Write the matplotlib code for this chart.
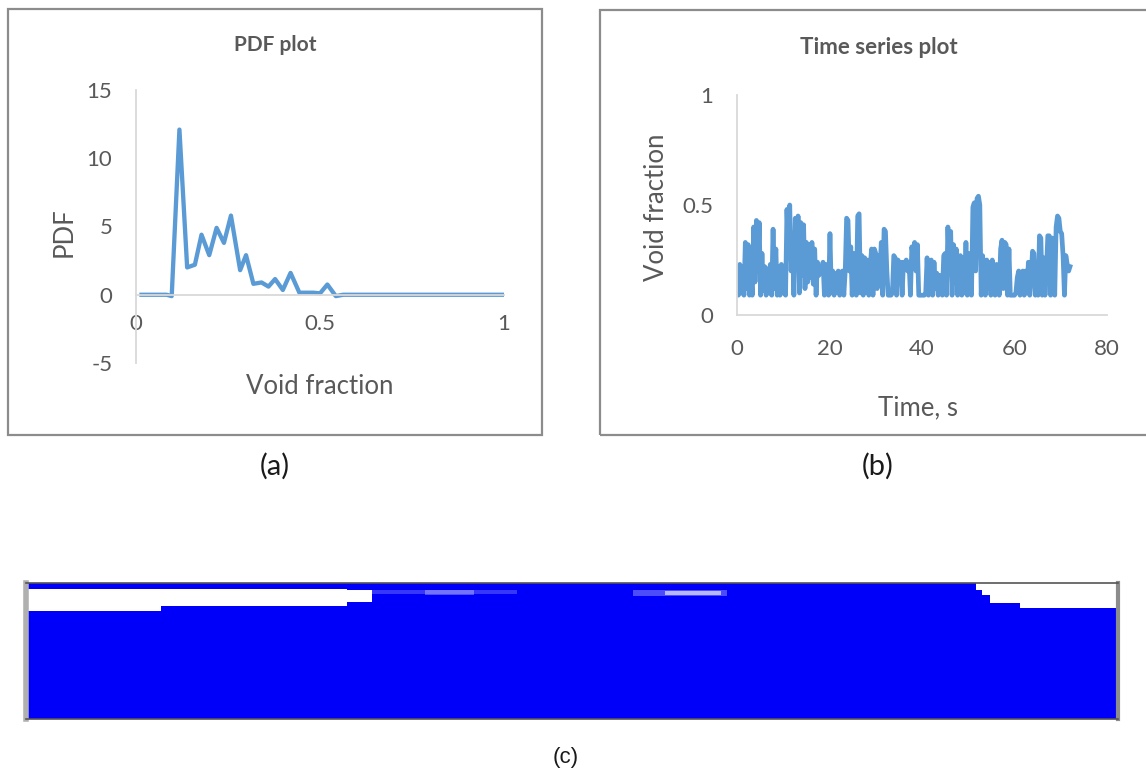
import matplotlib.pyplot as plt
from matplotlib.patches import Rectangle
import numpy as np

plt.rcParams['font.family'] = ['Lato', 'DejaVu Sans']
plt.rcParams['axes.unicode_minus'] = False

W, H = 1146, 773

# (a) PDF of the void fraction
pdf_void = [0.015, 0.083, 0.097, 0.118, 0.139, 0.160, 0.178, 0.199, 0.219, 0.239,
            0.258, 0.283, 0.299, 0.319, 0.341, 0.360, 0.378, 0.399, 0.420, 0.444,
            0.482, 0.500, 0.520, 0.543, 0.563, 1.000]
pdf_vals = [0.0, 0.0, -0.1, 12.1, 2.0, 2.2, 4.4, 2.9, 4.9, 3.8,
            5.8, 1.8, 2.9, 0.8, 0.9, 0.6, 1.15, 0.35, 1.6, 0.15,
            0.15, 0.1, 0.75, -0.1, 0.0, 0.0]

# (b) void fraction signal, one sample every 0.3 s
sample_dt = 0.3
ts_void = [
    0.20, 0.09, 0.23, 0.10, 0.22, 0.09, 0.33, 0.12, 0.32, 0.09, 0.20, 0.09, 0.40, 0.15, 0.43, 0.20, 0.42, 0.09, 0.28, 0.11,
    0.22, 0.09, 0.21, 0.10, 0.23, 0.09, 0.39, 0.12, 0.30, 0.09, 0.22, 0.09, 0.23, 0.10, 0.22, 0.09, 0.48, 0.30, 0.50, 0.20,
    0.37, 0.09, 0.44, 0.25, 0.45, 0.10, 0.42, 0.18, 0.41, 0.12, 0.33, 0.15, 0.32, 0.17, 0.33, 0.14, 0.30, 0.09, 0.24, 0.18,
    0.22, 0.20, 0.24, 0.09, 0.23, 0.18, 0.09, 0.37, 0.10, 0.20, 0.09, 0.19, 0.12, 0.20, 0.09, 0.18, 0.20, 0.09, 0.20, 0.44,
    0.43, 0.20, 0.31, 0.09, 0.28, 0.20, 0.09, 0.45, 0.46, 0.10, 0.27, 0.09, 0.26, 0.12, 0.25, 0.09, 0.22, 0.30, 0.09, 0.30,
    0.28, 0.12, 0.27, 0.20, 0.33, 0.09, 0.39, 0.38, 0.20, 0.09, 0.09, 0.09, 0.10, 0.27, 0.26, 0.09, 0.25, 0.20, 0.24, 0.09,
    0.24, 0.22, 0.25, 0.20, 0.24, 0.09, 0.31, 0.26, 0.33, 0.20, 0.32, 0.09, 0.09, 0.09, 0.09, 0.09, 0.10, 0.26, 0.09, 0.20,
    0.25, 0.09, 0.24, 0.12, 0.19, 0.09, 0.18, 0.13, 0.09, 0.27, 0.28, 0.09, 0.40, 0.20, 0.38, 0.09, 0.32, 0.15, 0.30, 0.09,
    0.20, 0.27, 0.09, 0.26, 0.10, 0.33, 0.09, 0.28, 0.20, 0.09, 0.49, 0.51, 0.20, 0.53, 0.54, 0.50, 0.09, 0.27, 0.20, 0.09,
    0.25, 0.12, 0.24, 0.09, 0.25, 0.14, 0.09, 0.23, 0.18, 0.09, 0.30, 0.34, 0.12, 0.33, 0.32, 0.09, 0.30, 0.09, 0.09, 0.09,
    0.09, 0.10, 0.17, 0.20, 0.09, 0.19, 0.20, 0.09, 0.20, 0.10, 0.24, 0.09, 0.18, 0.29, 0.28, 0.09, 0.20, 0.09, 0.36, 0.35,
    0.09, 0.26, 0.09, 0.20, 0.36, 0.36, 0.09, 0.35, 0.20, 0.09, 0.40, 0.45, 0.44, 0.38, 0.37, 0.27, 0.09, 0.27, 0.23, 0.20, 0.22,
]

# (c) gas pockets in the pipe snapshot: x along the pipe, depth measured from the top wall
left_gas_x = [0.0, 0.124, 0.294, 0.317]
left_gas_top = [0.044, 0.044, 0.05, 0.05]
left_gas_bot = [0.206, 0.169, 0.14, 0.14]
right_gas_x = [0.870, 0.875, 0.883, 0.910, 1.0]
right_gas_top = [0.0, 0.0, 0.0, 0.0, 0.0]
right_gas_bot = [0.051, 0.088, 0.147, 0.184, 0.184]
streak_x = [(0.317, 0.45), (0.365, 0.41), (0.556, 0.642), (0.585, 0.636)]
streak_depth = [(0.05, 0.08), (0.055, 0.085), (0.055, 0.095), (0.06, 0.09)]
streak_alpha = [0.22, 0.3, 0.3, 0.6]

LINE = '#5b9bd5'
TXT = '#595959'
AXC = '#d9d9d9'


def rect(x0, y0, x1, y1):
    """pixel box -> figure fraction [l, b, w, h]"""
    return [x0 / W, 1 - y1 / H, (x1 - x0) / W, (y1 - y0) / H]


def fx(x):
    return x / W


def fy(y):
    return 1 - y / H


def excel_style(ax, xpad, ypad):
    for s in ['top', 'right']:
        ax.spines[s].set_visible(False)
    for s in ['left', 'bottom']:
        ax.spines[s].set_color(AXC)
        ax.spines[s].set_linewidth(1.3)
    ax.tick_params(length=0, labelsize=16, colors=TXT)
    ax.tick_params(axis='x', pad=xpad)
    ax.tick_params(axis='y', pad=ypad)
    ax.patch.set_alpha(0)


fig = plt.figure(figsize=(W / 100, H / 100), dpi=100)

# panel frames
for x0, y0, x1, y1 in [(8, 9, 542, 435), (600, 10, 1150, 435)]:
    fig.patches.append(Rectangle((fx(x0), fy(y1)), fx(x1 - x0), (y1 - y0) / H,
                                 transform=fig.transFigure, fill=False,
                                 edgecolor='#8c8c8c', lw=1.6))

# (a) PDF plot
ax1 = fig.add_axes(rect(136, 90, 504, 363))
ax1.plot(pdf_void, pdf_vals, color=LINE, lw=3.1, solid_joinstyle='round')
ax1.set_xlim(0, 1)
ax1.set_ylim(-5, 15)
ax1.set_xticks([0, 0.5, 1])
ax1.set_xticklabels(['0', '0.5', '1'])
ax1.set_yticks([-5, 0, 5, 10, 15])
ax1.spines['bottom'].set_position(('data', 0))
excel_style(ax1, 14, 17)
fig.text(fx(275), fy(45), 'PDF plot', ha='center', va='center', fontsize=15,
         fontweight='bold', color=TXT)
fig.text(fx(64), fy(232), 'PDF', ha='center', va='center', rotation=90,
         fontsize=18.5, color=TXT)
fig.text(fx(320), fy(386), 'Void fraction', ha='center', va='center',
         fontsize=18.5, color=TXT)

# (b) time series plot
t = np.arange(len(ts_void)) * sample_dt
ax2 = fig.add_axes(rect(737, 95, 1107, 315))
ax2.plot(t, ts_void, color=LINE, lw=3.4)
ax2.set_xlim(0, 80)
ax2.set_ylim(0, 1)
ax2.set_xticks([0, 20, 40, 60, 80])
ax2.set_yticks([0, 0.5, 1])
ax2.set_yticklabels(['0', '0.5', '1'])
excel_style(ax2, 17, 17)
fig.text(fx(879), fy(48), 'Time series plot', ha='center', va='center',
         fontsize=16, fontweight='bold', color=TXT)
fig.text(fx(656), fy(207), 'Void fraction', ha='center', va='center',
         rotation=90, fontsize=18.5, color=TXT)
fig.text(fx(918), fy(408), 'Time, s', ha='center', va='center',
         fontsize=18.5, color=TXT)

fig.text(fx(275), fy(466), '(a)', ha='center', va='center', fontsize=21,
         color='#1a1a1a')
fig.text(fx(878), fy(466), '(b)', ha='center', va='center', fontsize=21,
         color='#1a1a1a')

# (c) pipe snapshot
ax3 = fig.add_axes(rect(26, 583, 1118, 719))
ax3.set_facecolor('#0000fa')
ax3.set_xlim(0, 1)
ax3.set_ylim(0, 1)
ax3.set_xticks([])
ax3.set_yticks([])
ax3.fill_between(left_gas_x, 1 - np.array(left_gas_top), 1 - np.array(left_gas_bot),
                 step='post', color='white', lw=0)
ax3.fill_between(right_gas_x, 1 - np.array(right_gas_top), 1 - np.array(right_gas_bot),
                 step='post', color='white', lw=0)
for (xa, xb), (da, db), a in zip(streak_x, streak_depth, streak_alpha):
    ax3.fill_between([xa, xb], 1 - da, 1 - db, color='white', alpha=a, lw=0)
for s in ax3.spines.values():
    s.set_color('#8c8c8c')
    s.set_linewidth(1.2)
ax3.spines['left'].set_linewidth(4)
ax3.spines['left'].set_color('#b0b0b0')
ax3.spines['right'].set_linewidth(3)
ax3.spines['bottom'].set_color('#555555')
ax3.spines['top'].set_color('#555555')

fig.text(fx(566), fy(757), '(c)', ha='center', va='center', fontsize=16,
         family='Liberation Sans', color='#1a1a1a')

fig.savefig('out.png', dpi=100)
